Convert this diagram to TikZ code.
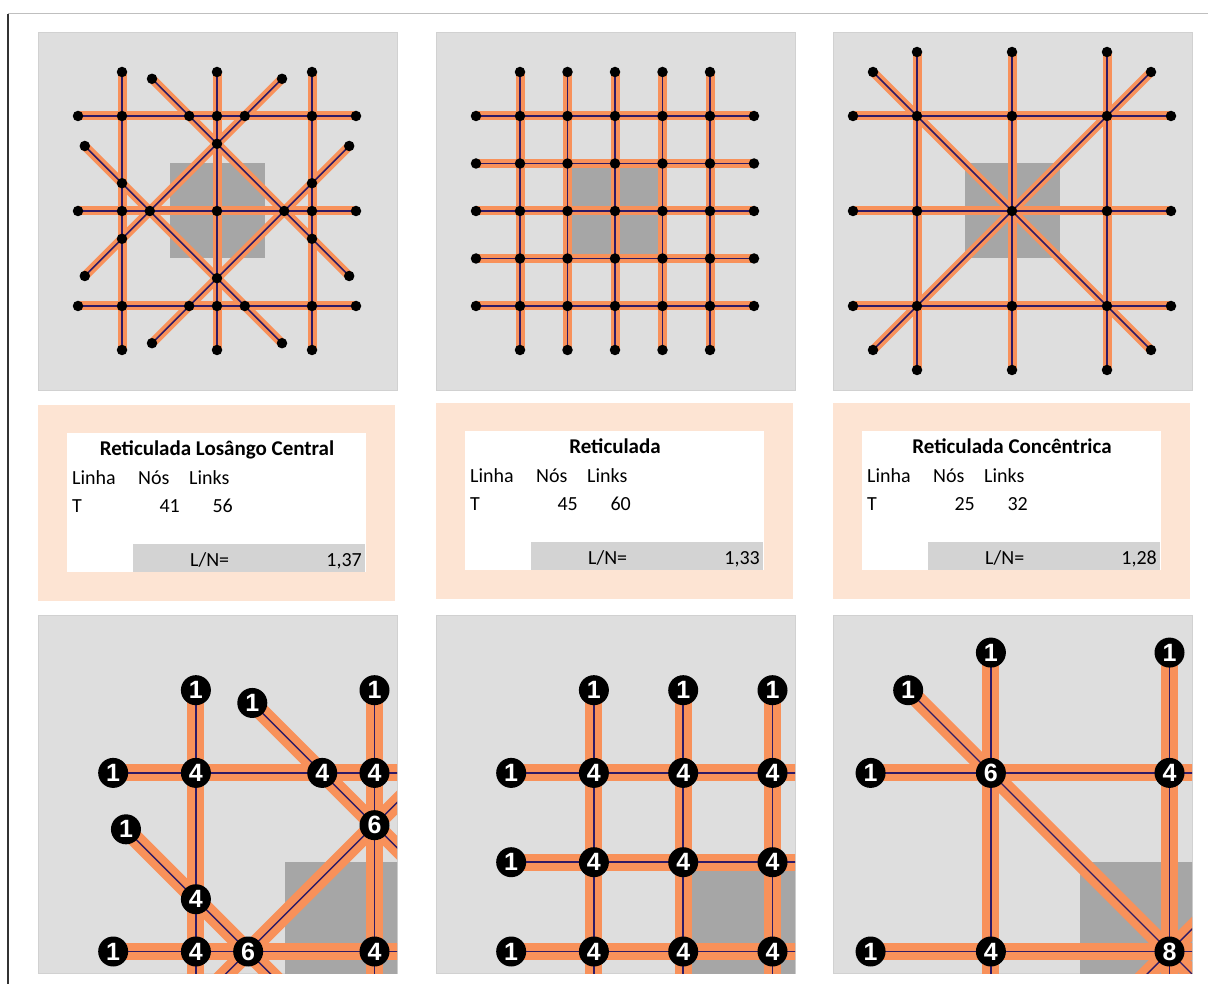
\documentclass[tikz,border=0pt]{standalone}
\usepackage{fontspec}
\setmainfont{Carlito}
\newfontfamily\numfont{Liberation Sans}

\definecolor{panelgray}{HTML}{DEDEDE}
\definecolor{hubgray}{HTML}{A6A6A6}
\definecolor{linkorange}{HTML}{F8915A}
\definecolor{linknavy}{HTML}{2E1A66}
\definecolor{peach}{HTML}{FDE4D3}
\definecolor{bargray}{HTML}{D3D3D3}

\tikzset{
  panel/.style={fill=panelgray, draw=panelgray!94!black, line width=0.8pt},
  hub/.style={fill=hubgray},
  band/.style={draw=linkorange, line width=9pt},
  core/.style={draw=linknavy, line width=1.6pt},
  netnode/.style={circle, fill=black, inner sep=0pt, minimum size=10.5pt},
  zoomed/.style={band/.append style={line width=17pt},
    core/.append style={line width=1.4pt},
    netnode/.append style={minimum size=30pt, text=white,
      font=\numfont\bfseries\fontsize{25}{25}\selectfont}},
  cell/.style={inner sep=0pt, font=\fontsize{20}{24}\selectfont},
}

% degree label and view limit, changed in the enlarged views
\newcommand{\showdeg}[1]{}
\newcommand{\viewlim}{1000}
% node of a network: name, x, y, degree (only placed when in view)
\newcommand{\vtx}[4]{%
  \pgfmathparse{and(#2<\viewlim,#3<\viewlim)}%
  \ifdim\pgfmathresult pt>0.5pt \node[netnode] (#1) at (#2,#3) {\showdeg{#4}};\fi}

% losango central: 3x3 grid crossed by the extended sides of a diamond
\newcommand{\losangoends}{dA1/-65/-132.2,dA2/132.2/65,dB1/65/-132.2,dB2/-132.2/65,dC1/-132.2/-65,dC2/65/132.2,dD1/132.2/-65,dD2/-65/132.2}
\newcommand{\netlosango}{%
  \fill[hub] (-47.5,-47.5) rectangle (47.5,47.5);
  \foreach \n/\kk in {1/-95,2/0,3/95}{
    \coordinate (lw\n) at (-139,\kk); \coordinate (le\n) at (139,\kk);
    \coordinate (ln\n) at (\kk,-139); \coordinate (ls\n) at (\kk,139);
  }
  \foreach \nm/\x/\y in \losangoends{
    \coordinate (\nm) at (\x,\y);
  }
  \foreach \lay in {band,core}{
    \foreach \n in {1,2,3}{
      \draw[\lay] (lw\n) -- (le\n);
      \draw[\lay] (ln\n) -- (ls\n);
    }
    \foreach \dg in {A,B,C,D}{
      \draw[\lay] (d\dg1) -- (d\dg2);
    }
  }
  \foreach \n/\kk in {1/-95,2/0,3/95}{
    \vtx{Nlw\n}{-139}{\kk}{1} \vtx{Nle\n}{139}{\kk}{1}
    \vtx{Nln\n}{\kk}{-139}{1} \vtx{Nls\n}{\kk}{139}{1}
  }
  \foreach \nm/\x/\y in \losangoends{
    \vtx{N\nm}{\x}{\y}{1}
  }
  \foreach \i/\x in {1/-95,2/0,3/95}{
    \foreach \j/\y in {1/-95,2/0,3/95}{
      \vtx{Ng\i\j}{\x}{\y}{4}
    }
  }
  \foreach \x/\y [count=\cc] in {-27.8/-95,27.8/-95,95/-27.8,95/27.8,27.8/95,-27.8/95,-95/27.8,-95/-27.8}{
    \vtx{Nx\cc}{\x}{\y}{4}
  }
  \foreach \x/\y [count=\cc] in {0/-67.2,67.2/0,0/67.2,-67.2/0}{
    \vtx{Nv\cc}{\x}{\y}{6}
  }
}

% reticulada: 5x5 grid
\newcommand{\netreticulada}{%
  \fill[hub] (-47.5,-47.5) rectangle (47.5,47.5);
  \foreach \n in {1,...,5}{
    \pgfmathsetmacro{\kpos}{(\n-3)*47.5}
    \coordinate (rw\n) at (-139,\kpos); \coordinate (re\n) at (139,\kpos);
    \coordinate (rn\n) at (\kpos,-139); \coordinate (rs\n) at (\kpos,139);
  }
  \foreach \lay in {band,core}{
    \foreach \n in {1,...,5}{
      \draw[\lay] (rw\n) -- (re\n);
      \draw[\lay] (rn\n) -- (rs\n);
    }
  }
  \foreach \n in {1,...,5}{
    \pgfmathsetmacro{\kpos}{(\n-3)*47.5}
    \vtx{Nrw\n}{-139}{\kpos}{1} \vtx{Nre\n}{139}{\kpos}{1}
    \vtx{Nrn\n}{\kpos}{-139}{1} \vtx{Nrs\n}{\kpos}{139}{1}
    \foreach \m in {1,...,5}{
      \pgfmathsetmacro{\mpos}{(\m-3)*47.5}
      \vtx{Ng\n\m}{\kpos}{\mpos}{4}
    }
  }
}

% reticulada concentrica: 3x3 grid with both diagonals
\newcommand{\netconcentrica}{%
  \fill[hub] (-47.5,-47.5) rectangle (47.5,47.5);
  \foreach \n/\kk in {1/-95,2/0,3/95}{
    \coordinate (cw\n) at (-159,\kk); \coordinate (ce\n) at (159,\kk);
    \coordinate (cn\n) at (\kk,-159); \coordinate (cs\n) at (\kk,159);
  }
  \coordinate (cd1) at (-139,-139); \coordinate (cd2) at (139,139);
  \coordinate (cd3) at (139,-139);  \coordinate (cd4) at (-139,139);
  \foreach \lay in {band,core}{
    \foreach \n in {1,2,3}{
      \draw[\lay] (cw\n) -- (ce\n);
      \draw[\lay] (cn\n) -- (cs\n);
    }
    \draw[\lay] (cd1) -- (cd2);
    \draw[\lay] (cd3) -- (cd4);
  }
  \foreach \n/\kk in {1/-95,2/0,3/95}{
    \vtx{Ncw\n}{-159}{\kk}{1} \vtx{Nce\n}{159}{\kk}{1}
    \vtx{Ncn\n}{\kk}{-159}{1} \vtx{Ncs\n}{\kk}{159}{1}
  }
  \foreach \nm/\x/\y in {cd1/-139/-139,cd2/139/139,cd3/139/-139,cd4/-139/139}{
    \vtx{N\nm}{\x}{\y}{1}
  }
  \foreach \i/\j/\x/\y/\dg in {1/1/-95/-95/6,2/1/0/-95/4,3/1/95/-95/6,1/2/-95/0/4,2/2/0/0/8,3/2/95/0/4,1/3/-95/95/6,2/3/0/95/4,3/3/95/95/6}{
    \vtx{Ng\i\j}{\x}{\y}{\dg}
  }
}

% table: tag, left, top, title, nodes, links, ratio
\newcommand{\statbox}[7]{%
  \fill[peach] (#2,#3) rectangle ++(357,196);
  \fill[white] ({#2+29},{#3+28}) rectangle ({#2+328},{#3+167});
  \fill[bargray] ({#2+95},{#3+139}) rectangle ({#2+327},{#3+167});
  \node[cell, anchor=base, font=\fontsize{21}{24}\selectfont\bfseries] (#1-title) at ({#2+179},{#3+50}) {#4};
  \node[cell, anchor=base west] (#1-linha) at ({#2+34},{#3+79}) {Linha};
  \node[cell, anchor=base west] (#1-nos) at ({#2+100},{#3+79}) {Nós};
  \node[cell, anchor=base west] (#1-links) at ({#2+151},{#3+79}) {Links};
  \node[cell, anchor=base west] (#1-t) at ({#2+34},{#3+107}) {T};
  \node[cell, anchor=base east] (#1-n) at ({#2+142},{#3+107}) {#5};
  \node[cell, anchor=base east] (#1-l) at ({#2+195},{#3+107}) {#6};
  \node[cell, anchor=base west] (#1-ln) at ({#2+152},{#3+161}) {L/N=};
  \node[cell, anchor=base east] (#1-ratio) at ({#2+324},{#3+161}) {#7};
}

\begin{document}
\begin{tikzpicture}[x=1pt, y=-1pt]
  \useasboundingbox (0,0) rectangle (1208,984);
  % frame
  \draw[black!25, line width=1pt] (8,14) -- (1208,14);
  \draw[black!80, line width=1.5pt] (8,14) -- (8,984);
  % panels
  \foreach \px in {38,436,833}{
    \draw[panel] (\px,32) rectangle ++(359,358);
    \draw[panel] (\px,615) rectangle ++(359,358);
  }
  % whole networks
  \begin{scope}[shift={(217,211)}] \netlosango \end{scope}
  \begin{scope}[shift={(615,211)}] \netreticulada \end{scope}
  \begin{scope}[shift={(1012,211)}] \netconcentrica \end{scope}
  % tables
  \statbox{los}{38}{405}{Reticulada Losângo Central}{41}{56}{1,37}
  \statbox{ret}{436}{403}{Reticulada}{45}{60}{1,33}
  \statbox{con}{833}{403}{Reticulada Concêntrica}{25}{32}{1,28}
  % enlarged upper left quarters
  \foreach \px/\net in {38/\netlosango,436/\netreticulada,833/\netconcentrica}{
    \begin{scope}
      \clip (\px,615) rectangle ++(359,358);
      \begin{scope}[shift={({\px+336.5},951.5)}, scale=1.88, zoomed]
        \renewcommand{\showdeg}[1]{##1}
        \renewcommand{\viewlim}{20}
        \net
      \end{scope}
    \end{scope}
  }
\end{tikzpicture}
\end{document}
